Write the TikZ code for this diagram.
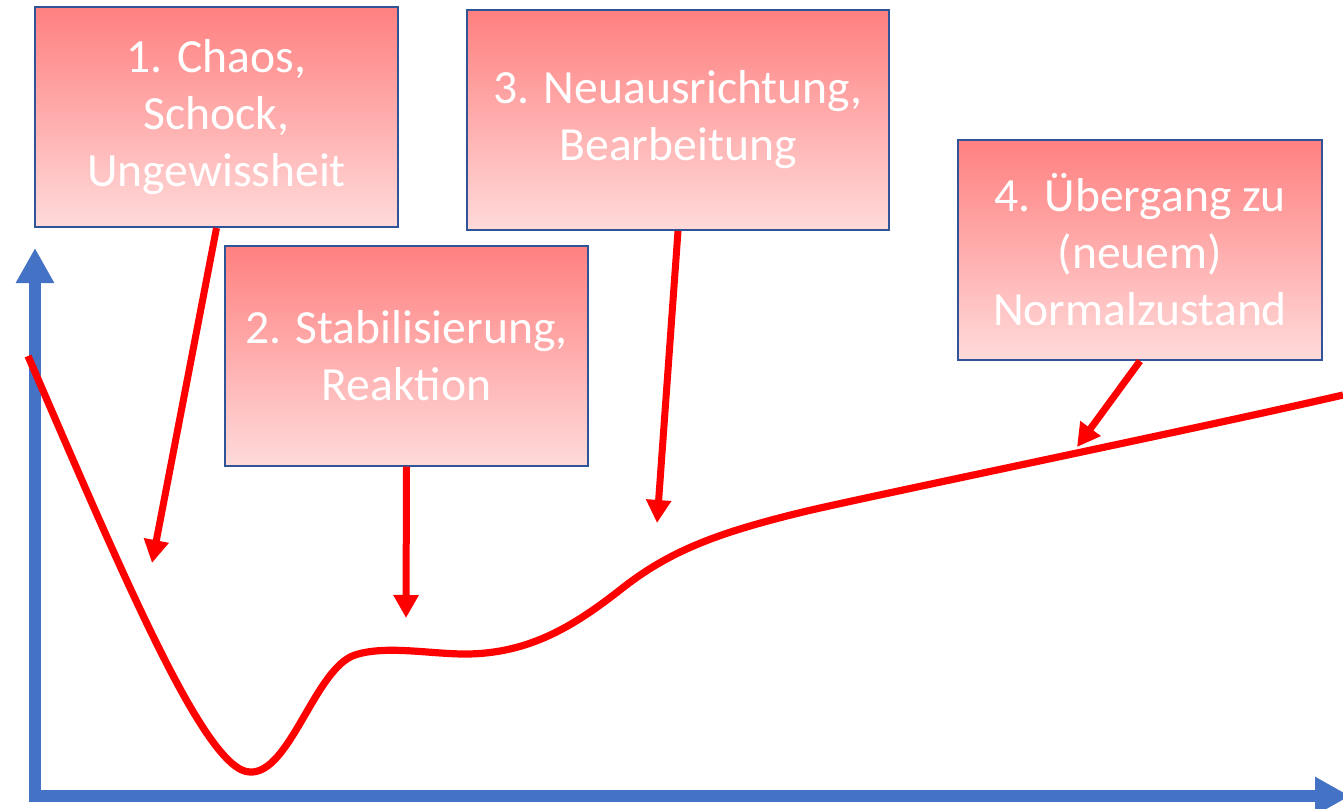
\documentclass[tikz,border=0pt]{standalone}
\usepackage{fontspec}
\setmainfont{Carlito}
\usetikzlibrary{arrows.meta}
\definecolor{axisblue}{HTML}{4472C4}
\definecolor{boxblue}{HTML}{2F5597}
\definecolor{boxtop}{HTML}{FF8080}
\definecolor{boxbottom}{HTML}{FFDADA}
\tikzset{
	phase/.style={draw=boxblue, line width=1pt, top color=boxtop, bottom color=boxbottom,
		text=white, align=center, minimum height=110pt, inner sep=0pt,
		font=\fontsize{23.8}{28.5}\selectfont},
	axis/.style={axisblue, line width=6pt, -{Triangle[length=17.5pt, width=18pt]}},
	pointer/.style={red, line width=3.5pt, -{Triangle[length=11.5pt, width=12pt]}},
	trend/.style={red, line width=3.6pt}
}
\begin{document}
\begin{tikzpicture}[x=0.5pt, y=-0.5pt]
	\useasboundingbox (0,0) rectangle (1343,808);
	% axes
	\draw[axis] (35,802) -- (35,248);
	\draw[axis] (29,796) -- (1350,796);
	% curve
	\draw[trend] (28,356) .. controls (120,568) and (205,772) .. (250,772)
		.. controls (290,774) and (315,668) .. (355,655)
		.. controls (385,645) and (430,654) .. (465,654)
		.. controls (530,654) and (575,625) .. (620,590)
		.. controls (670,550) and (720,532) .. (807,511)
		.. controls (880,494) and (1200,428) .. (1343,395);
	% phases
	\node[phase, minimum width=181.5pt] (chaos) at (216.5,117) {1. Chaos,\\Schock,\\Ungewissheit};
	\node[phase, minimum width=181.5pt] (stabil) at (406.5,355.5) {2. Stabilisierung,\\Reaktion};
	\node[phase, minimum width=211pt] (neuaus) at (678,120) {3. Neuausrichtung,\\Bearbeitung};
	\node[phase, minimum width=182pt] (normal) at (1140,250) {4. Übergang zu\\(neuem)\\Normalzustand};
	\coordinate (chaos-tip) at (152,563);
	\coordinate (stabil-tip) at (406,618);
	\coordinate (neuaus-tip) at (657,523);
	\coordinate (normal-tip) at (1077,447);
	\foreach \name in {chaos, stabil, neuaus, normal}
	{
		\draw[pointer] (\name.south) -- (\name-tip);
	}
\end{tikzpicture}
\end{document}
